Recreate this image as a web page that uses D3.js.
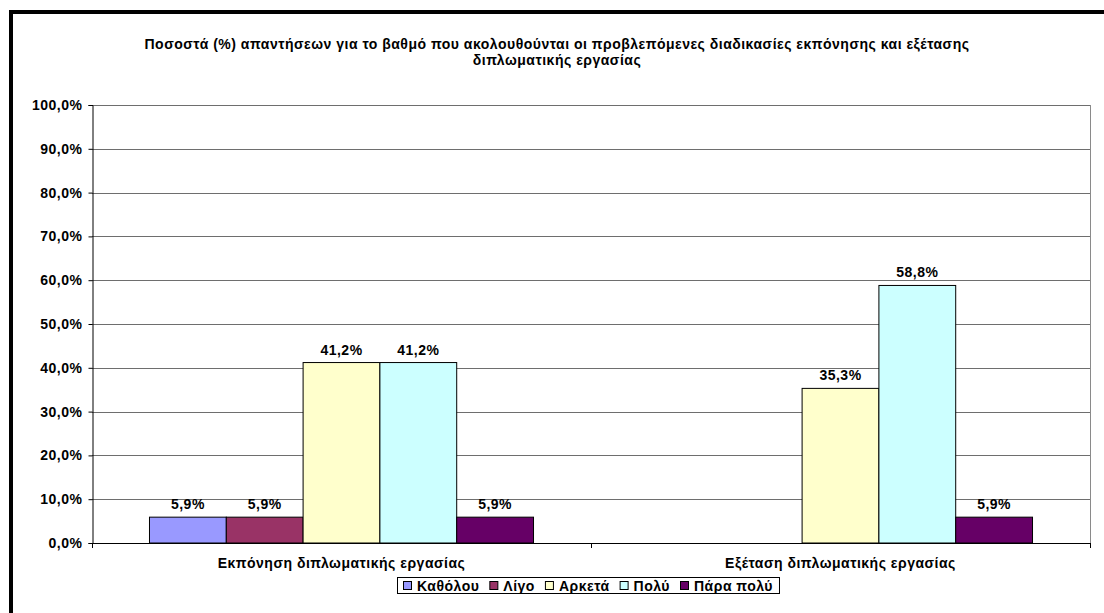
<!DOCTYPE html>
<html>
<head>
<meta charset="utf-8">
<script src="https://cdn.jsdelivr.net/npm/d3@7"></script>
<style>
  body { margin: 0; background: #fff; }
  svg text { font-family: "Liberation Sans", Arial, sans-serif; font-weight: 700; fill: #000; letter-spacing: 0.5px; }
</style>
</head>
<body>
<div id="chart"></div>
<script>
const categories = ["Εκπόνηση διπλωματικής εργασίας", "Εξέταση διπλωματικής εργασίας"];
const seriesNames = ["Καθόλου", "Λίγο", "Αρκετά", "Πολύ", "Πάρα πολύ"];
const seriesColors = ["#9999FF", "#993366", "#FFFFCC", "#CCFFFF", "#660066"];
const valuesEkponisi = [5.9, 5.9, 41.2, 41.2, 5.9];
const valuesExetasi = [null, null, 35.3, 58.8, 5.9];
const yTicks = [0, 10, 20, 30, 40, 50, 60, 70, 80, 90, 100];
const titleLines = [
  "Ποσοστά (%) απαντήσεων για το βαθμό που ακολουθούνται οι προβλεπόμενες διαδικασίες εκπόνησης και εξέτασης",
  "διπλωματικής εργασίας"
];

const allValues = [valuesEkponisi, valuesExetasi];
const fmt = v => d3.format(".1f")(v).replace(".", ",") + "%";
const FS = "14px";

const W = 1104, H = 613;
const svg = d3.select("#chart").append("svg")
  .attr("width", W).attr("height", H)
  .attr("font-weight", "bold");

// outer chart frame (only top and left edges visible)
svg.append("rect")
  .attr("x", 11).attr("y", 12)
  .attr("width", 1200).attr("height", 700)
  .attr("fill", "none").attr("stroke", "#000").attr("stroke-width", 4);

const plot = {left: 92, right: 1090, top: 105, bottom: 543};

const x0 = d3.scaleBand().domain(categories).range([plot.left, plot.right]);
// the 5 bars fill ~77% of each group
const x1 = d3.scaleBand().domain(seriesNames)
  .range([x0.bandwidth() * 0.1152, x0.bandwidth() * 0.8848]);
const y = d3.scaleLinear().domain([0, 100]).range([plot.bottom, plot.top]);

// title
svg.append("g").selectAll("text")
  .data(titleLines).enter().append("text")
  .attr("x", 557).attr("y", (d, i) => 49 + i * 16)
  .attr("text-anchor", "middle")
  .style("font-size", FS)
  .text(d => d);

// gridlines
svg.append("g").selectAll("line")
  .data(yTicks.filter(t => t > 0)).enter().append("line")
  .attr("x1", plot.left).attr("x2", plot.right)
  .attr("y1", d => Math.round(y(d)) + 0.5).attr("y2", d => Math.round(y(d)) + 0.5)
  .attr("stroke", "#6e6e6e").attr("stroke-width", 1);

// plot area right border
svg.append("line")
  .attr("x1", plot.right + 0.5).attr("x2", plot.right + 0.5)
  .attr("y1", plot.top).attr("y2", plot.bottom)
  .attr("stroke", "#8a8a8a");

// y axis
const yAxis = svg.append("g")
  .attr("transform", `translate(${plot.left + 0.5},0)`)
  .call(d3.axisLeft(y).tickValues(yTicks).tickSize(4).tickPadding(6).tickFormat(fmt));
yAxis.attr("font-family", null).attr("font-size", null);
yAxis.selectAll("text").style("font-size", FS);
yAxis.select(".domain").attr("stroke", "#000");

// x axis with ticks at band boundaries
svg.append("line")
  .attr("x1", plot.left).attr("x2", plot.right + 1)
  .attr("y1", plot.bottom + 0.5).attr("y2", plot.bottom + 0.5)
  .attr("stroke", "#000");
const boundaries = categories.map(c => x0(c)).concat([x0(categories[categories.length - 1]) + x0.bandwidth()]);
svg.append("g").selectAll("line")
  .data(boundaries).enter().append("line")
  .attr("x1", d => Math.round(d) + 0.5).attr("x2", d => Math.round(d) + 0.5)
  .attr("y1", plot.bottom).attr("y2", plot.bottom + 5)
  .attr("stroke", "#000");
svg.append("g").selectAll("text")
  .data(categories).enter().append("text")
  .attr("x", d => x0(d) + x0.bandwidth() / 2)
  .attr("y", plot.bottom + 25)
  .attr("text-anchor", "middle")
  .style("font-size", FS)
  .text(d => d);

// bars
const groups = svg.append("g").selectAll("g")
  .data(categories).enter().append("g")
  .attr("transform", d => `translate(${x0(d)},0)`);

groups.selectAll("rect")
  .data((d, i) => seriesNames.map((s, j) => ({s, v: allValues[i][j], c: seriesColors[j]})).filter(e => e.v != null))
  .enter().append("rect")
  .attr("x", d => x1(d.s))
  .attr("y", d => y(d.v))
  .attr("width", x1.bandwidth())
  .attr("height", d => plot.bottom - y(d.v))
  .attr("fill", d => d.c)
  .attr("stroke", "#000").attr("stroke-width", 1);

groups.selectAll("text")
  .data((d, i) => seriesNames.map((s, j) => ({s, v: allValues[i][j]})).filter(e => e.v != null))
  .enter().append("text")
  .attr("x", d => x1(d.s) + x1.bandwidth() / 2)
  .attr("y", d => y(d.v) - 8)
  .attr("text-anchor", "middle")
  .style("font-size", FS)
  .text(d => fmt(d.v));

// legend, items laid out by measured text width, centred under the plot
const legend = svg.append("g");
const legendBox = legend.append("rect")
  .attr("x", 0.5).attr("y", 0.5).attr("height", 16)
  .attr("fill", "#fff").attr("stroke", "#000");
let lx = 6;
seriesNames.forEach((name, i) => {
  const item = legend.append("g").attr("transform", `translate(${lx},4)`);
  item.append("rect")
    .attr("x", 0.5).attr("y", 0.5).attr("width", 8).attr("height", 8)
    .attr("fill", seriesColors[i]).attr("stroke", "#000");
  const t = item.append("text")
    .attr("x", 14).attr("y", 10)
    .style("font-size", FS)
    .text(name);
  lx += 14 + t.node().getComputedTextLength() + 10;
});
const legendW = lx - 4;
legendBox.attr("width", legendW);
legend.attr("transform", `translate(${Math.round(587.5 - legendW / 2)},577)`);
</script>
</body>
</html>
